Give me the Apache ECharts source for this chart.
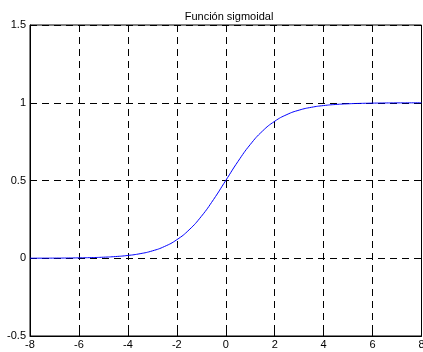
<!DOCTYPE html>
<html>
<head>
<meta charset="utf-8">
<script src="https://cdn.jsdelivr.net/npm/echarts@6/dist/echarts.min.js"></script>
<style>
  html, body { margin: 0; padding: 0; background: #fff; }
  #chart { width: 423px; height: 352px; }
</style>
</head>
<body>
<div id="chart"></div>
<script>
  // values, x from -8 to 8 in steps of 0.5
  const xValues = [-8, -7.5, -7, -6.5, -6, -5.5, -5, -4.5, -4, -3.5, -3, -2.5, -2, -1.5, -1, -0.5,
    0, 0.5, 1, 1.5, 2, 2.5, 3, 3.5, 4, 4.5, 5, 5.5, 6, 6.5, 7, 7.5, 8]
  const yValues = [0.0003, 0.0006, 0.0009, 0.0015, 0.0025, 0.0041, 0.0067, 0.011, 0.018, 0.0293,
    0.0474, 0.0759, 0.1192, 0.1824, 0.2689, 0.3775, 0.5, 0.6225, 0.7311, 0.8176, 0.8808,
    0.9241, 0.9526, 0.9707, 0.982, 0.989, 0.9933, 0.9959, 0.9975, 0.9985, 0.9991, 0.9994, 0.9997]
  const titleText = 'Función sigmoidal'

  const chart = echarts.init(document.getElementById('chart'))
  const font = 'Liberation Sans, Arial, sans-serif'
  const dashed = { show: true, lineStyle: { color: '#000', type: [7, 5], width: 1 } }

  chart.setOption({
    animation: false,
    backgroundColor: '#fff',
    title: {
      text: titleText,
      left: 224,
      textAlign: 'center',
      top: 6,
      textStyle: { fontFamily: font, fontSize: 11, fontWeight: 'normal', color: '#000' }
    },
    grid: {
      left: 30, right: 1.5, top: 25, bottom: 16,
      outerBoundsMode: 'none',
      show: true, borderColor: '#000', borderWidth: 1
    },
    xAxis: {
      type: 'value',
      min: -8,
      max: 8,
      interval: 2,
      axisLine: { show: true, onZero: false, lineStyle: { color: '#000' } },
      axisTick: { show: true, inside: true, length: 4, lineStyle: { color: '#000' } },
      axisLabel: { color: '#000', fontFamily: font, fontSize: 11, margin: 3 },
      splitLine: dashed
    },
    yAxis: {
      type: 'value',
      min: -0.5,
      max: 1.5,
      interval: 0.5,
      axisLine: { show: true, onZero: false, lineStyle: { color: '#000' } },
      axisTick: { show: true, inside: true, length: 4, lineStyle: { color: '#000' } },
      axisLabel: { color: '#000', fontFamily: font, fontSize: 11, margin: 4 },
      splitLine: dashed
    },
    series: [{
      type: 'line',
      data: xValues.map((x, i) => [x, yValues[i]]),
      smooth: true,
      showSymbol: false,
      lineStyle: { color: '#0000ff', width: 1 },
      z: 3
    }]
  })
</script>
</body>
</html>
